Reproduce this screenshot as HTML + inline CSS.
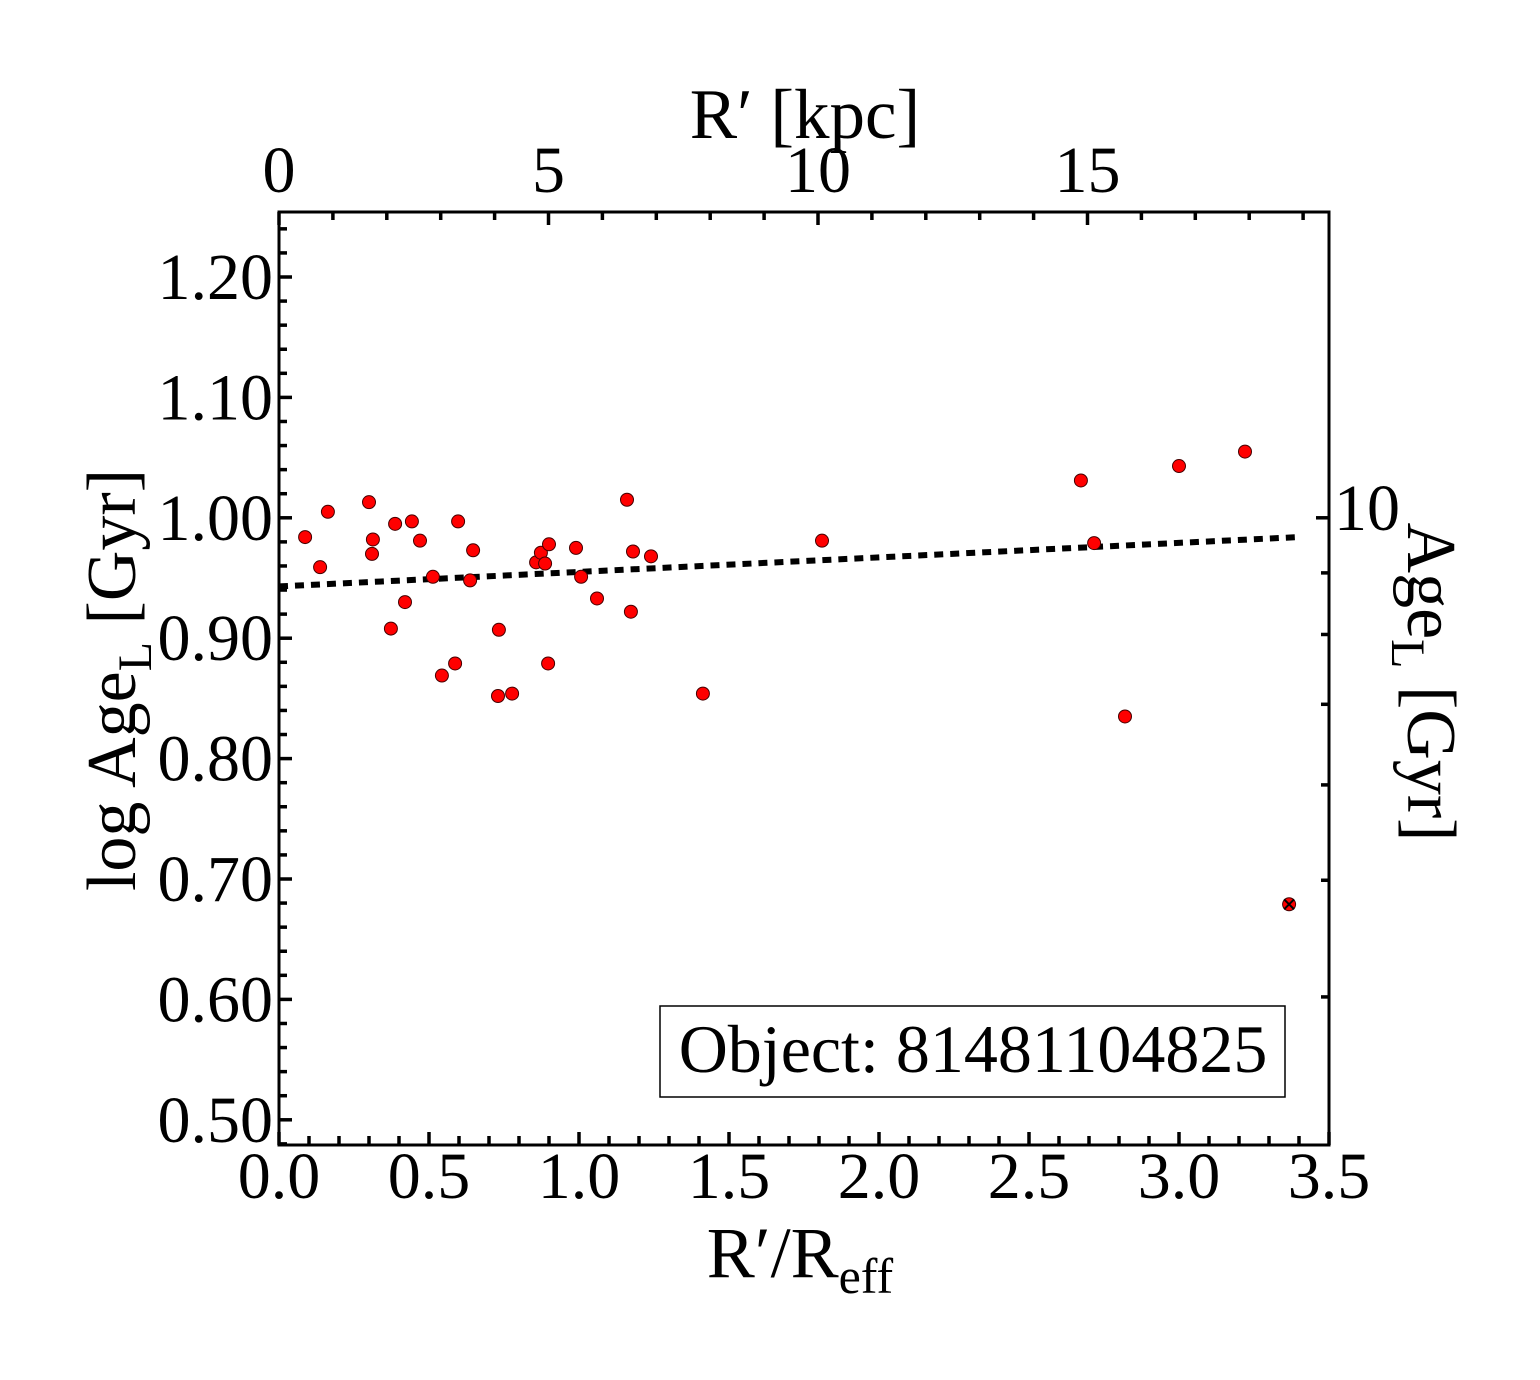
<!DOCTYPE html>
<html><head><meta charset="utf-8"><style>
body{margin:0;background:#fff}
text{font-family:"Liberation Serif",serif;fill:#000}
</style></head><body>
<svg id="chart" width="1540" height="1375" xmlns="http://www.w3.org/2000/svg">
<g id="ticks"></g>
<g id="marks"></g>
<rect x="279" y="212" width="1050" height="933" fill="none" stroke="#000" stroke-width="3"/>
<text x="805" y="138" font-size="71" text-anchor="middle">R′ [kpc]</text>
<text x="800" y="1277" font-size="72" text-anchor="middle">R′/R<tspan font-size="50" dy="16">eff</tspan></text>
<text transform="translate(135,680) rotate(-90)" font-size="70" text-anchor="middle">log Age<tspan font-size="48" dy="16">L</tspan><tspan dy="-16"> [Gyr]</tspan></text>
<text transform="translate(1408,682) rotate(90)" font-size="70" text-anchor="middle">Age<tspan font-size="48" dy="16">L</tspan><tspan dy="-16"> [Gyr]</tspan></text>
<g>
<rect x="660" y="1006" width="625" height="91" fill="#fff" stroke="#000" stroke-width="1.5"/>
<text x="973" y="1072" font-size="68" text-anchor="middle">Object: 81481104825</text>
</g>
</svg>
<script>
const xVals=[0.087,0.137,0.163,0.30,0.313,0.31,0.373,0.387,0.443,0.42,0.47,0.513,0.543,0.587,0.597,0.637,0.647,0.73,0.733,0.777,0.857,0.873,0.887,0.90,0.897,0.99,1.007,1.06,1.16,1.173,1.18,1.24,1.413,1.81,2.673,2.717,2.82,3.0,3.22];
const yVals=[0.984,0.959,1.005,1.013,0.982,0.970,0.908,0.995,0.997,0.930,0.981,0.951,0.869,0.879,0.997,0.948,0.973,0.852,0.907,0.854,0.963,0.971,0.962,0.978,0.879,0.975,0.951,0.933,1.015,0.922,0.972,0.968,0.854,0.981,1.031,0.979,0.835,1.043,1.055];
const outlierX=[3.367];
const outlierY=[0.679];
const fitX=[0.0,3.4];
const fitY=[0.943,0.984];
const xTicks=["0.0","0.5","1.0","1.5","2.0","2.5","3.0","3.5"];
const yTicks=["0.50","0.60","0.70","0.80","0.90","1.00","1.10","1.20"];
const kpcTicks=["0","5","10","15"];
const ageTicks=[4,5,6,7,8,9,10];

const NS="http://www.w3.org/2000/svg";
const X=v=>279+v*300;
const Y=v=>277+(1.2-v)*1204;
const K=v=>279+v*53.9;
function mk(tag,attrs,parent){const e=document.createElementNS(NS,tag);for(const k in attrs)e.setAttribute(k,attrs[k]);parent.appendChild(e);return e;}
const tg=document.getElementById('ticks'),mg=document.getElementById('marks');
for(let i=0;i<=35;i++){const v=i/10,x=X(v),L=i%5==0?13:9;
 const t=mk('line',{x1:x,x2:x,y1:1145,y2:1145-L,stroke:'#000','stroke-width':3.5},tg);
 }
xTicks.forEach(s=>{const t=mk('text',{x:X(parseFloat(s)),y:1198,'font-size':66,'text-anchor':'middle'},tg);t.textContent=s;
 });
for(let i=24;i<=62;i++){const v=i/50;const y=Y(v);if(y<212||y>1145)continue;const L=i%5==0?13:8;
 const t=mk('line',{x1:279,x2:279+L,y1:y,y2:y,stroke:'#000','stroke-width':3.5},tg);
 }
yTicks.forEach(s=>{const t=mk('text',{x:273,y:Y(parseFloat(s))+22,'font-size':66,'text-anchor':'end'},tg);t.textContent=s;
 });
for(let i=0;i<=19;i++){const x=K(i);if(x>1329)continue;const L=i%5==0?13:8;
 const t=mk('line',{x1:x,x2:x,y1:212,y2:212+L,stroke:'#000','stroke-width':3.5},tg);
 }
kpcTicks.forEach(s=>{const t=mk('text',{x:K(parseFloat(s)),y:192,'font-size':66,'text-anchor':'middle'},tg);t.textContent=s;
 });
ageTicks.forEach(a=>{const y=Y(Math.log10(a)),L=a==10?13:8;
 const t=mk('line',{x1:1329,x2:1329-L,y1:y,y2:y,stroke:'#000','stroke-width':3.5},tg);
 
 if(a==10){const l=mk('text',{x:1334,y:y+12,'font-size':66},tg);l.textContent='10';
 }});
const fl=mk('line',{x1:X(fitX[0]),y1:Y(fitY[0]),x2:X(fitX[1]),y2:Y(fitY[1]),stroke:'#000','stroke-width':6,'stroke-dasharray':'9 7'},mg);

xVals.forEach((v,i)=>{const c=mk('circle',{cx:X(v),cy:Y(yVals[i]),r:6.5,fill:'#f00',stroke:'#400','stroke-width':1},mg);
 });
outlierX.forEach((v,i)=>{const cx=X(v),cy=Y(outlierY[i]);
 const c=mk('circle',{cx:cx,cy:cy,r:6.5,fill:'#f00',stroke:'#400','stroke-width':1},mg);
 
 mk('path',{d:`M${cx-5},${cy-5}L${cx+5},${cy+5}M${cx-5},${cy+5}L${cx+5},${cy-5}`,stroke:'#000','stroke-width':2},mg);});
</script>
</body></html>
